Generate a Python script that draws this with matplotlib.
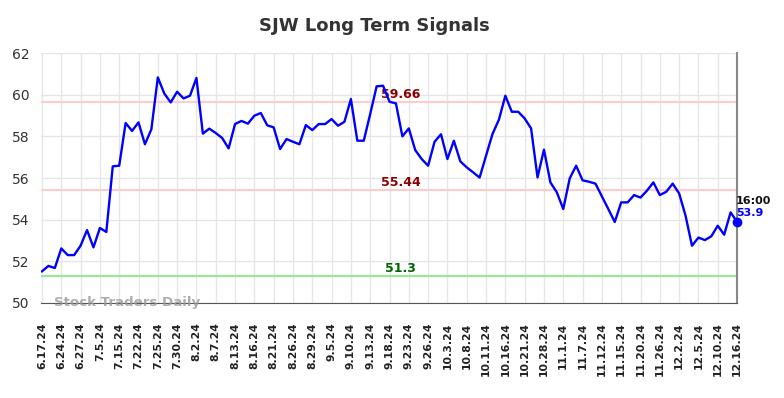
import numpy as np
import matplotlib
matplotlib.use("Agg")
import matplotlib.pyplot as plt

# closing prices
prices = [
    51.52, 51.78, 51.68, 52.62, 52.30, 52.30, 52.75, 53.50, 52.67, 53.60,
    53.41, 56.56, 56.59, 58.64, 58.26, 58.67, 57.62, 58.34, 60.83, 60.06,
    59.63, 60.14, 59.82, 59.95, 60.80, 58.13, 58.37, 58.16, 57.92, 57.42,
    58.59, 58.74, 58.61, 58.99, 59.12, 58.53, 58.43, 57.39, 57.87, 57.74,
    57.62, 58.54, 58.30, 58.59, 58.59, 58.83, 58.51, 58.70, 59.79, 57.79,
    57.79, 59.07, 60.40, 60.43, 59.66, 59.58, 58.00, 58.38, 57.34, 56.91,
    56.59, 57.74, 58.10, 56.91, 57.79, 56.80, 56.51, 56.27, 56.02, 57.07,
    58.11, 58.80, 59.95, 59.18, 59.18, 58.86, 58.38, 56.03, 57.36, 55.79,
    55.31, 54.51, 55.98, 56.59, 55.89, 55.82, 55.73, 55.12, 54.51, 53.89,
    54.83, 54.83, 55.18, 55.06, 55.39, 55.79, 55.18, 55.34, 55.73, 55.26,
    54.19, 52.75, 53.14, 53.02, 53.20, 53.71, 53.28, 54.35, 53.90,
]

tick_labels = [
    "6.17.24", "6.24.24", "6.27.24", "7.5.24", "7.15.24", "7.22.24", "7.25.24",
    "7.30.24", "8.2.24", "8.7.24", "8.13.24", "8.16.24", "8.21.24", "8.26.24",
    "8.29.24", "9.5.24", "9.10.24", "9.13.24", "9.18.24", "9.23.24", "9.26.24",
    "10.3.24", "10.8.24", "10.11.24", "10.16.24", "10.21.24", "10.28.24",
    "11.1.24", "11.7.24", "11.12.24", "11.15.24", "11.20.24", "11.26.24",
    "12.2.24", "12.5.24", "12.10.24", "12.16.24",
]

resist_high = 59.66
resist_low = 55.44
support = 51.3
last_time = "16:00"

x = np.arange(len(prices))
tick_pos = np.arange(0, len(prices), 3)

fig = plt.figure(figsize=(7.84, 3.98), dpi=100)
ax = fig.add_axes([0.0523, 0.2387, 0.8878, 0.6281])

ax.set_xlim(-0.15, len(prices) - 1)
ax.set_ylim(50, 62)
ax.set_yticks(np.arange(50, 63, 2))
ax.set_xticks(tick_pos)
ax.set_xticklabels(tick_labels, rotation=90, fontsize=7.8, fontweight="bold", color="#222222")
ax.tick_params(axis="y", labelsize=10, colors="#333333", length=0, pad=8)
ax.tick_params(axis="x", length=0, pad=14)
ax.grid(True, color="#e6e6e6", linewidth=1)
ax.set_axisbelow(True)

for side in ["top", "left"]:
    ax.spines[side].set_visible(False)
ax.spines["bottom"].set_color("#555555")
ax.spines["right"].set_color("#888888")
ax.spines["right"].set_linewidth(1.5)

ax.axhline(resist_high, color="#ffcccc", linewidth=1.5, zorder=2)
ax.axhline(resist_low, color="#ffcccc", linewidth=1.5, zorder=2)
ax.axhline(support, color="#90ee90", linewidth=1.5, zorder=2)

mid = 55.7
ax.text(mid, resist_high + 0.05, f"{resist_high:.2f}", color="#8b0000", fontsize=9,
        fontweight="bold", ha="center", va="bottom")
ax.text(mid, resist_low + 0.05, f"{resist_low:.2f}", color="#8b0000", fontsize=9,
        fontweight="bold", ha="center", va="bottom")
ax.text(mid, support + 0.05, f"{support}", color="#006400", fontsize=9,
        fontweight="bold", ha="center", va="bottom")

ax.plot(x, prices, color="#0000ff", linewidth=1.7, zorder=3)
ax.plot(x[-1], prices[-1], "o", color="#0000ff", markersize=6, zorder=4, clip_on=False)

ax.text(x[-1] - 0.2, prices[-1] + 1.0, last_time, color="#111111", fontsize=8,
        fontweight="bold", ha="left", va="center", clip_on=False)
ax.text(x[-1] - 0.2, prices[-1] + 0.4, f"{prices[-1]}", color="#0000ff", fontsize=8,
        fontweight="bold", ha="left", va="center", clip_on=False)

ax.text(1.8, 50.0, "Stock Traders Daily", color="#999999", alpha=0.8, fontsize=9.6,
        fontweight="bold", ha="left", va="center")

fig.text(0.477, 0.935, "SJW Long Term Signals", fontsize=13, fontweight="bold",
         color="#333333", ha="center", va="center")

fig.savefig("out.png", dpi=100)
